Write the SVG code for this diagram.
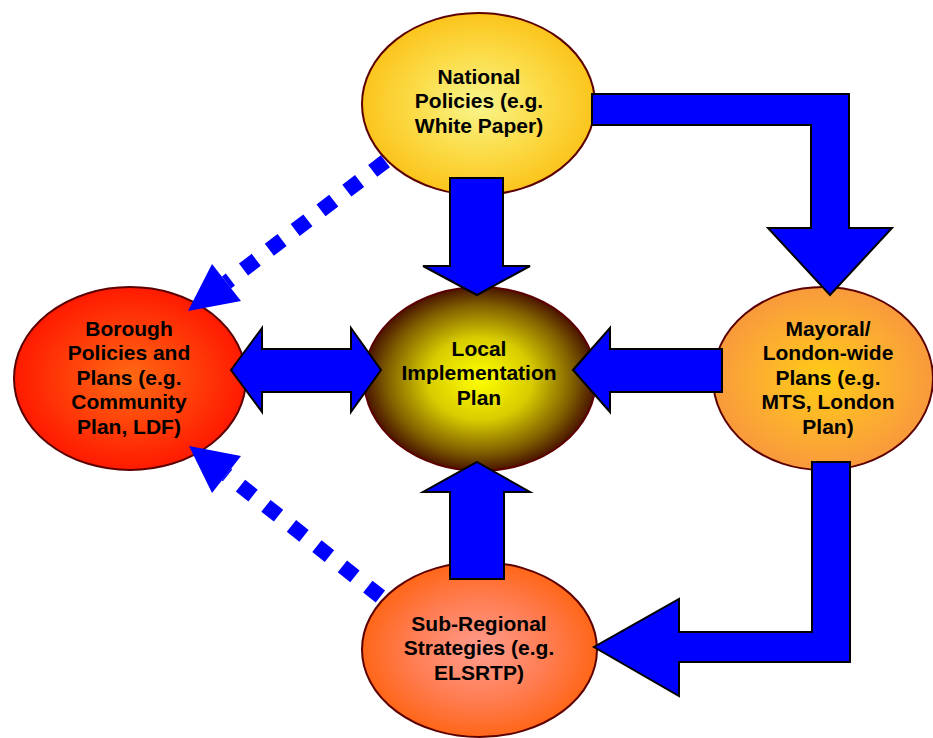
<svg xmlns="http://www.w3.org/2000/svg" width="933" height="738" viewBox="0 0 933 738">
  <defs>
    <radialGradient id="gTop" cx="50%" cy="50%" r="50%">
      <stop offset="0" stop-color="#f8f58c"/>
      <stop offset="0.55" stop-color="#fbdc48"/>
      <stop offset="1" stop-color="#fbc41c"/>
    </radialGradient>
    <radialGradient id="gLeft" cx="50%" cy="50%" r="50%">
      <stop offset="0" stop-color="#ff6a14"/>
      <stop offset="0.6" stop-color="#ff3a08"/>
      <stop offset="1" stop-color="#ff1a00"/>
    </radialGradient>
    <radialGradient id="gCenter" cx="50%" cy="50%" r="50%">
      <stop offset="0" stop-color="#ffff00"/>
      <stop offset="0.45" stop-color="#d8cc00"/>
      <stop offset="0.8" stop-color="#806000"/>
      <stop offset="1" stop-color="#4a1400"/>
    </radialGradient>
    <radialGradient id="gRight" cx="50%" cy="50%" r="50%">
      <stop offset="0" stop-color="#ffcc14"/>
      <stop offset="0.6" stop-color="#fcae30"/>
      <stop offset="1" stop-color="#f89a3c"/>
    </radialGradient>
    <radialGradient id="gBottom" cx="50%" cy="50%" r="50%">
      <stop offset="0" stop-color="#ff9c8e"/>
      <stop offset="0.6" stop-color="#ff7c50"/>
      <stop offset="1" stop-color="#ff6618"/>
    </radialGradient>
  </defs>
  <style>
    .node { stroke: #5c0000; stroke-width: 2; }
    .lbl { font-family: "Liberation Sans", Arial, sans-serif; font-weight: bold; font-size: 21px; fill: #000; text-anchor: middle; }
    .block { fill: #0000ff; stroke: #000; stroke-width: 2; stroke-linejoin: miter; }
    .dots { fill: none; stroke: #0000ff; stroke-width: 15; stroke-dasharray: 16 16.5; stroke-linecap: butt; }
    .dhead { fill: #0000ff; stroke: none; }
  </style>
  <rect width="933" height="738" fill="#ffffff"/>

  <g id="node-national">
    <ellipse class="node" cx="478.5" cy="104" rx="116.5" ry="91" fill="url(#gTop)"/>
    <text class="lbl" x="479" y="83.5">National</text>
    <text class="lbl" x="479" y="108">Policies (e.g.</text>
    <text class="lbl" x="479" y="132.5">White Paper)</text>
  </g>

  <g id="node-borough">
    <ellipse class="node" cx="130" cy="378.5" rx="116" ry="91.5" fill="url(#gLeft)"/>
    <text class="lbl" x="129" y="335.5">Borough</text>
    <text class="lbl" x="129" y="360">Policies and</text>
    <text class="lbl" x="129" y="384.5">Plans (e.g.</text>
    <text class="lbl" x="129" y="409">Community</text>
    <text class="lbl" x="129" y="433.5">Plan, LDF)</text>
  </g>

  <g id="node-lip">
    <ellipse class="node" cx="480" cy="379" rx="116" ry="92" fill="url(#gCenter)"/>
    <text class="lbl" x="479" y="355.5">Local</text>
    <text class="lbl" x="479" y="380">Implementation</text>
    <text class="lbl" x="479" y="404.5">Plan</text>
  </g>

  <g id="node-mayoral">
    <ellipse class="node" cx="823" cy="378.5" rx="110" ry="91.5" fill="url(#gRight)"/>
    <text class="lbl" x="828" y="335.5">Mayoral/</text>
    <text class="lbl" x="828" y="360">London-wide</text>
    <text class="lbl" x="828" y="384.5">Plans (e.g.</text>
    <text class="lbl" x="828" y="409">MTS, London</text>
    <text class="lbl" x="828" y="433.5">Plan)</text>
  </g>

  <g id="node-subregional">
    <ellipse class="node" cx="479.5" cy="649.5" rx="117.5" ry="87.5" fill="url(#gBottom)"/>
    <text class="lbl" x="479" y="630.5">Sub-Regional</text>
    <text class="lbl" x="479" y="655">Strategies (e.g.</text>
    <text class="lbl" x="479" y="679.5">ELSRTP)</text>
  </g>

  <g id="connectors">
    <!-- National -> LIP -->
    <polygon class="block" points="450,178 503,178 503,266 530,266 477,295 423,266 450,266"/>
    <!-- National -> Mayoral (elbow) -->
    <polygon class="block" points="592,94 849,94 849,228 892,228 830,295 768,228 811,228 811,125 592,125"/>
    <!-- Mayoral -> LIP -->
    <polygon class="block" points="573,370 610,328 610,349 722,349 722,392 610,392 610,412"/>
    <!-- Borough <-> LIP -->
    <polygon class="block" points="231,370 262,328 262,349 351,349 351,328 381,370 351,412 351,392 262,392 262,412"/>
    <!-- Sub-Regional -> LIP -->
    <polygon class="block" points="477,462 530,492 504,492 504,579 450,579 450,492 423,492"/>
    <!-- Mayoral -> Sub-Regional (elbow) -->
    <polygon class="block" points="812,462 850,462 850,662 679,662 679,696 594,647 679,599 679,632 812,632"/>
    <!-- National -> Borough (dotted) -->
    <line class="dots" x1="385.4" y1="161.2" x2="226.5" y2="282.5"/>
    <polygon class="dhead" points="188,311 212,264 241,301"/>
    <!-- Sub-Regional -> Borough (dotted) -->
    <line class="dots" x1="380.4" y1="596.5" x2="226.5" y2="474.5"/>
    <polygon class="dhead" points="189,446 241,456 212,493"/>
  </g>
</svg>
